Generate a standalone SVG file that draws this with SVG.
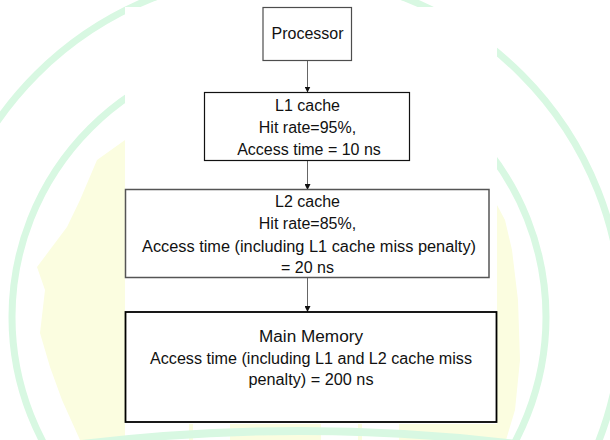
<svg xmlns="http://www.w3.org/2000/svg" width="610" height="440" viewBox="0 0 610 440">
<style>
.bx{fill:#ffffff}
.t{font-family:"Liberation Sans",Arial,sans-serif;font-size:16px;fill:#111111;text-anchor:middle}
.ring{fill:none;stroke:#d8f8e2;stroke-width:7}
.yl{fill:#fbfde0}
.wh{fill:#ffffff}
.conn{stroke:#666666;stroke-width:1;fill:none}
</style>
<defs>
<marker id="ah" markerWidth="6" markerHeight="6" refX="5.5" refY="3" orient="auto" markerUnits="userSpaceOnUse">
<path d="M0,0 L6,3 L0,6 Z" fill="#111111"/>
</marker>
</defs>
<g id="background">
<rect x="0" y="0" width="610" height="440" fill="#ffffff"/>
<path class="yl" d="M125,140 L97,160 L80,200 L67,227 L37,267 L45,290 L40,333 L50,367 L62,400 L80,440 L506,440 L515,410 L520,360 L518,300 L512,250 L505,220 L497,205 Z"/>
<circle class="ring" cx="279" cy="317" r="267"/>
<circle class="ring" cx="279" cy="317" r="343"/>
<rect class="wh" x="125" y="7" width="372" height="417"/>
<rect class="wh" x="125" y="424" width="64" height="16"/>
<rect class="wh" x="193" y="424" width="37" height="16"/>
<rect class="wh" x="321" y="424" width="37" height="16"/>
<rect class="wh" x="362" y="424" width="37" height="16"/>
<path d="M82,444 Q300,418 517,444" fill="none" stroke="#d8f8e2" stroke-width="8"/>
</g>
<g id="connectors">
<line class="conn" x1="307.5" y1="60.5" x2="307.5" y2="92" marker-end="url(#ah)"/>
<line class="conn" x1="307.5" y1="160.5" x2="307.5" y2="189.5" marker-end="url(#ah)"/>
<line class="conn" x1="307.5" y1="277.5" x2="307.5" y2="311.5" marker-end="url(#ah)"/>
</g>
<g id="processor">
<rect class="bx" x="263" y="7.5" width="88.5" height="53" stroke="#4d4d4d" stroke-width="1.2"/>
<text class="t" x="307.5" y="39">Processor</text>
</g>
<g id="l1cache">
<rect class="bx" x="204.5" y="92.5" width="205" height="68" stroke="#111111" stroke-width="1.2"/>
<text class="t" x="307.5" y="111">L1 cache</text>
<text class="t" x="307.5" y="133">Hit rate=95%,</text>
<text class="t" x="309" y="154.5">Access time = 10 ns</text>
</g>
<g id="l2cache">
<rect class="bx" x="125.5" y="189.5" width="363.5" height="88" stroke="#555555" stroke-width="1.5"/>
<text class="t" x="307.5" y="206.5">L2 cache</text>
<text class="t" x="307.5" y="229">Hit rate=85%,</text>
<text class="t" x="309" y="251.5" textLength="334" lengthAdjust="spacingAndGlyphs">Access time (including L1 cache miss penalty)</text>
<text class="t" x="307.5" y="273">= 20 ns</text>
</g>
<g id="mainmemory">
<rect class="bx" x="125.5" y="312" width="371" height="110" stroke="#000000" stroke-width="1.8"/>
<text class="t" x="311" y="341.5" textLength="104" lengthAdjust="spacingAndGlyphs">Main Memory</text>
<text class="t" x="311" y="363.5" textLength="322" lengthAdjust="spacingAndGlyphs">Access time (including L1 and L2 cache miss</text>
<text class="t" x="311" y="385" textLength="125" lengthAdjust="spacingAndGlyphs">penalty) = 200 ns</text>
</g>
</svg>
